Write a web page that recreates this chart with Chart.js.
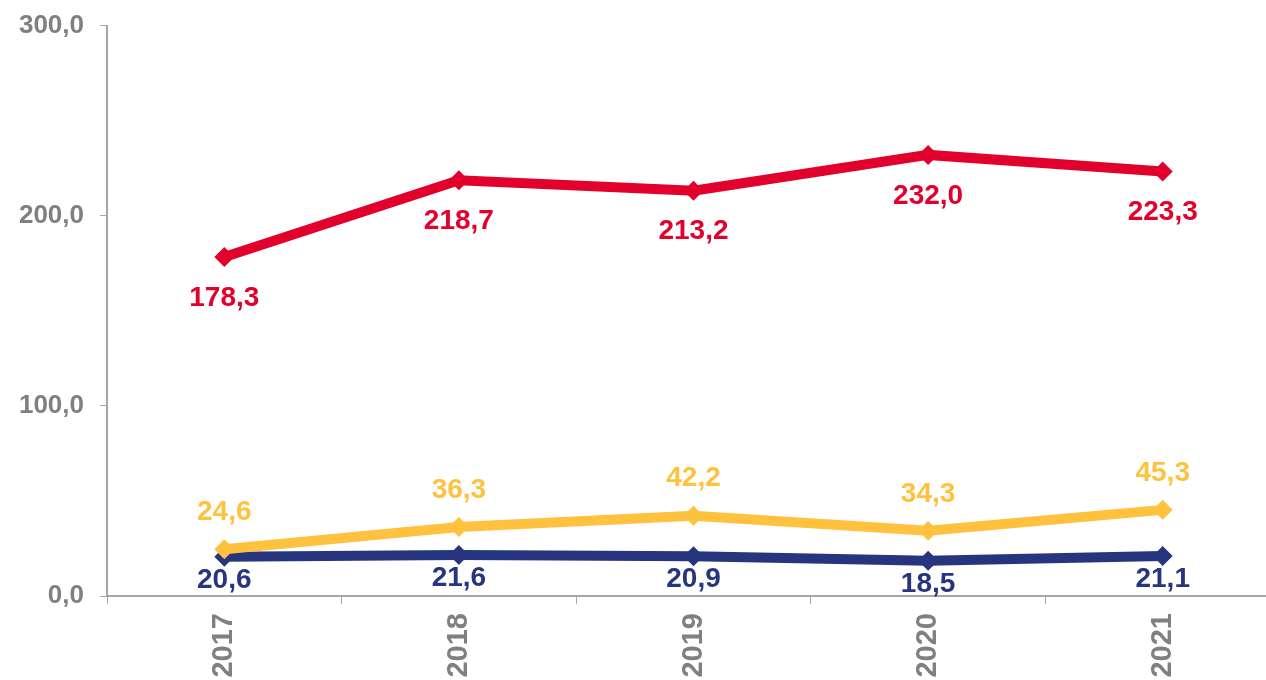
<!DOCTYPE html>
<html><head><meta charset="utf-8">
<script src="https://cdn.jsdelivr.net/npm/chart.js@4/dist/chart.umd.min.js"></script>
<style>
html,body{margin:0;padding:0;background:#fff;overflow:hidden;width:1266px;height:680px;}
#wrap{position:absolute;left:0;top:-6px;width:1290px;height:686px;}
</style></head><body>
<div id="wrap"><canvas id="c" width="1290" height="686"></canvas></div>
<script>
const categories = ['2017','2018','2019','2020','2021'];
const redValues = [178.3, 218.7, 213.2, 232.0, 223.3];
const yellowValues = [24.6, 36.3, 42.2, 34.3, 45.3];
const navyValues = [20.6, 21.6, 20.9, 18.5, 21.1];
const yTicks = [0, 100, 200, 300];

const RED = '#E2002C', YEL = '#FFC23F', NAVY = '#27357F', GRAY = '#808080';
const fmt = v => v.toFixed(1).replace('.', ',');

const labelOffsets = [41, -37, 23];

const labelPlugin = {
  id: 'vlabels',
  afterDatasetsDraw(chart) {
    const ctx = chart.ctx;
    ctx.save();
    ctx.font = 'bold 28px "Liberation Sans", Arial, sans-serif';
    ctx.textAlign = 'center';
    ctx.textBaseline = 'middle';
    chart.data.datasets.forEach((ds, i) => {
      const meta = chart.getDatasetMeta(i);
      ctx.fillStyle = ds.borderColor;
      meta.data.forEach((pt, j) => {
        ctx.fillText(fmt(ds.data[j]), pt.x, pt.y + labelOffsets[i]);
      });
    });
    ctx.restore();
  }
};

const mk = (data, color) => ({
  data, borderColor: color, backgroundColor: color,
  borderWidth: 10, pointStyle: 'rectRot', pointRadius: 10, pointHoverRadius: 10,
  pointBorderWidth: 0, tension: 0
});

new Chart(document.getElementById('c'), {
  type: 'line',
  data: {
    labels: categories,
    datasets: [mk(redValues, RED), mk(yellowValues, YEL), mk(navyValues, NAVY)]
  },
  options: {
    responsive: false, animation: false,
    layout: { padding: { top: 21, right: 10, left: 0, bottom: 0 } },
    plugins: { legend: { display: false }, tooltip: { enabled: false } },
    scales: {
      x: {
        offset: true,
        grid: { offset: true, drawOnChartArea: false, drawTicks: true, tickLength: 8, color: '#A6A6A6' },
        border: { color: '#A6A6A6', width: 2 },
        ticks: { color: GRAY, font: { family: '"Liberation Sans", Arial, sans-serif', weight: 'bold', size: 29 },
                 minRotation: 90, maxRotation: 90, padding: 9, autoSkip: false },
        afterFit(s) { s.height = 84; }
      },
      y: {
        min: 0, max: 300,
        afterBuildTicks(s) { s.ticks = yTicks.map(v => ({ value: v })); },
        grid: { drawOnChartArea: false, drawTicks: true, tickLength: 7, color: '#A6A6A6' },
        border: { color: '#A6A6A6', width: 2 },
        ticks: { color: GRAY, font: { family: '"Liberation Sans", Arial, sans-serif', weight: 'bold', size: 26 },
                 padding: 16, callback: v => fmt(v) },
        afterFit(s) { s.width = 107; }
      }
    }
  },
  plugins: [labelPlugin]
});
</script>
</body></html>
